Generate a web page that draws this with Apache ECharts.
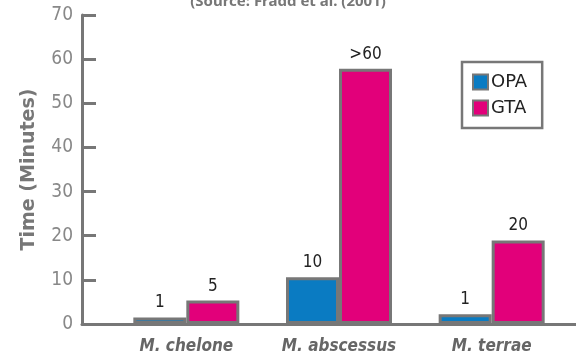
<!DOCTYPE html>
<html>
<head>
<meta charset="utf-8">
<script src="https://cdn.jsdelivr.net/npm/echarts@6/dist/echarts.min.js"></script>
<style>
html,body{margin:0;padding:0;background:#fff;}
#chart{width:576px;height:356px;}
</style>
</head>
<body>
<div id="chart"></div>
<script>
const categories = ['M. chelone', 'M. abscessus', 'M. terrae'];
const opaValues = [1.5, 10.6, 2.2];
const gtaValues = [5.3, 57.8, 18.9];
const opaLabels = ['1', '10', '1'];
const gtaLabels = ['5', '>60', '20'];
const yTicks = [0, 10, 20, 30, 40, 50, 60, 70];

const FONT = "'DejaVu Sans Condensed', 'Liberation Sans Narrow', Roboto, sans-serif";
const GRAY = '#777777';

const chart = echarts.init(document.getElementById('chart'), null, {renderer: 'canvas'});

function mkSeries(name, values, labels, color) {
  return {
    name: name,
    type: 'bar',
    xAxisIndex: 0,
    yAxisIndex: 0,
    barWidth: 53,
    barGap: '0%',
    data: values,
    itemStyle: {color: color, borderColor: GRAY, borderWidth: 3},
    label: {
      show: true,
      position: 'top',
      distance: 6,
      fontFamily: FONT,
      fontSize: 17,
      color: '#222',
      formatter: function (p) { return labels[p.dataIndex]; }
    },
    emphasis: {disabled: true}
  };
}

chart.setOption({
  animation: false,
  backgroundColor: '#fff',
  title: {
    text: '(Source: Fradd et al. (2001)',
    left: 'center',
    top: -11,
    textStyle: {fontFamily: "'Noto Sans', sans-serif", fontSize: 15, fontWeight: 'bold', color: GRAY}
  },
  legend: {
    orient: 'vertical',
    left: 462,
    top: 62,
    padding: [11, 15, 11, 10],
    itemGap: 8,
    itemWidth: 15,
    itemHeight: 15,
    icon: 'rect',
    backgroundColor: '#fff',
    borderColor: GRAY,
    borderWidth: 2.5,
    borderRadius: 0,
    textStyle: {fontFamily: "'DejaVu Sans', sans-serif", fontSize: 18, color: '#222', padding: [0, 0, 0, -2]},
    data: ['OPA', 'GTA']
  },
  grid: [
    {left: 110, right: 8, top: 15, bottom: 32},
    {left: 82, right: 0, top: 15, bottom: 32}
  ],
  xAxis: [
    {
      type: 'category',
      gridIndex: 0,
      data: categories,
      axisLine: {show: false},
      axisTick: {show: false},
      axisLabel: {
        interval: 0,
        margin: 14,
        fontFamily: "'DejaVu Sans Condensed', 'DejaVu Sans', sans-serif",
        fontSize: 17,
        fontStyle: 'italic',
        fontWeight: 'bold',
        color: '#666'
      }
    },
    {
      type: 'value',
      gridIndex: 1,
      min: 0,
      max: 1,
      axisLine: {show: true, lineStyle: {color: GRAY, width: 3}},
      axisTick: {show: false},
      axisLabel: {show: false},
      splitLine: {show: false}
    }
  ],
  yAxis: [
    {
      type: 'value',
      gridIndex: 0,
      min: 0,
      max: 70,
      interval: 10,
      show: false,
      splitLine: {show: false}
    },
    {
      type: 'value',
      gridIndex: 1,
      min: yTicks[0],
      max: yTicks[yTicks.length - 1],
      interval: 10,
      name: 'Time (Minutes)',
      nameLocation: 'middle',
      nameGap: 43,
      nameTextStyle: {fontFamily: "'DejaVu Sans', sans-serif", fontSize: 19, fontWeight: 'bold', color: GRAY},
      axisLine: {show: true, lineStyle: {color: GRAY, width: 3}},
      axisTick: {show: true, inside: true, length: 14, lineStyle: {color: GRAY, width: 3}},
      axisLabel: {margin: 9, fontFamily: FONT, fontSize: 19, color: '#888'},
      splitLine: {show: false}
    }
  ],
  series: [
    mkSeries('OPA', opaValues, opaLabels, '#0a7bc2'),
    mkSeries('GTA', gtaValues, gtaLabels, '#e2007a')
  ]
});
</script>
</body>
</html>
